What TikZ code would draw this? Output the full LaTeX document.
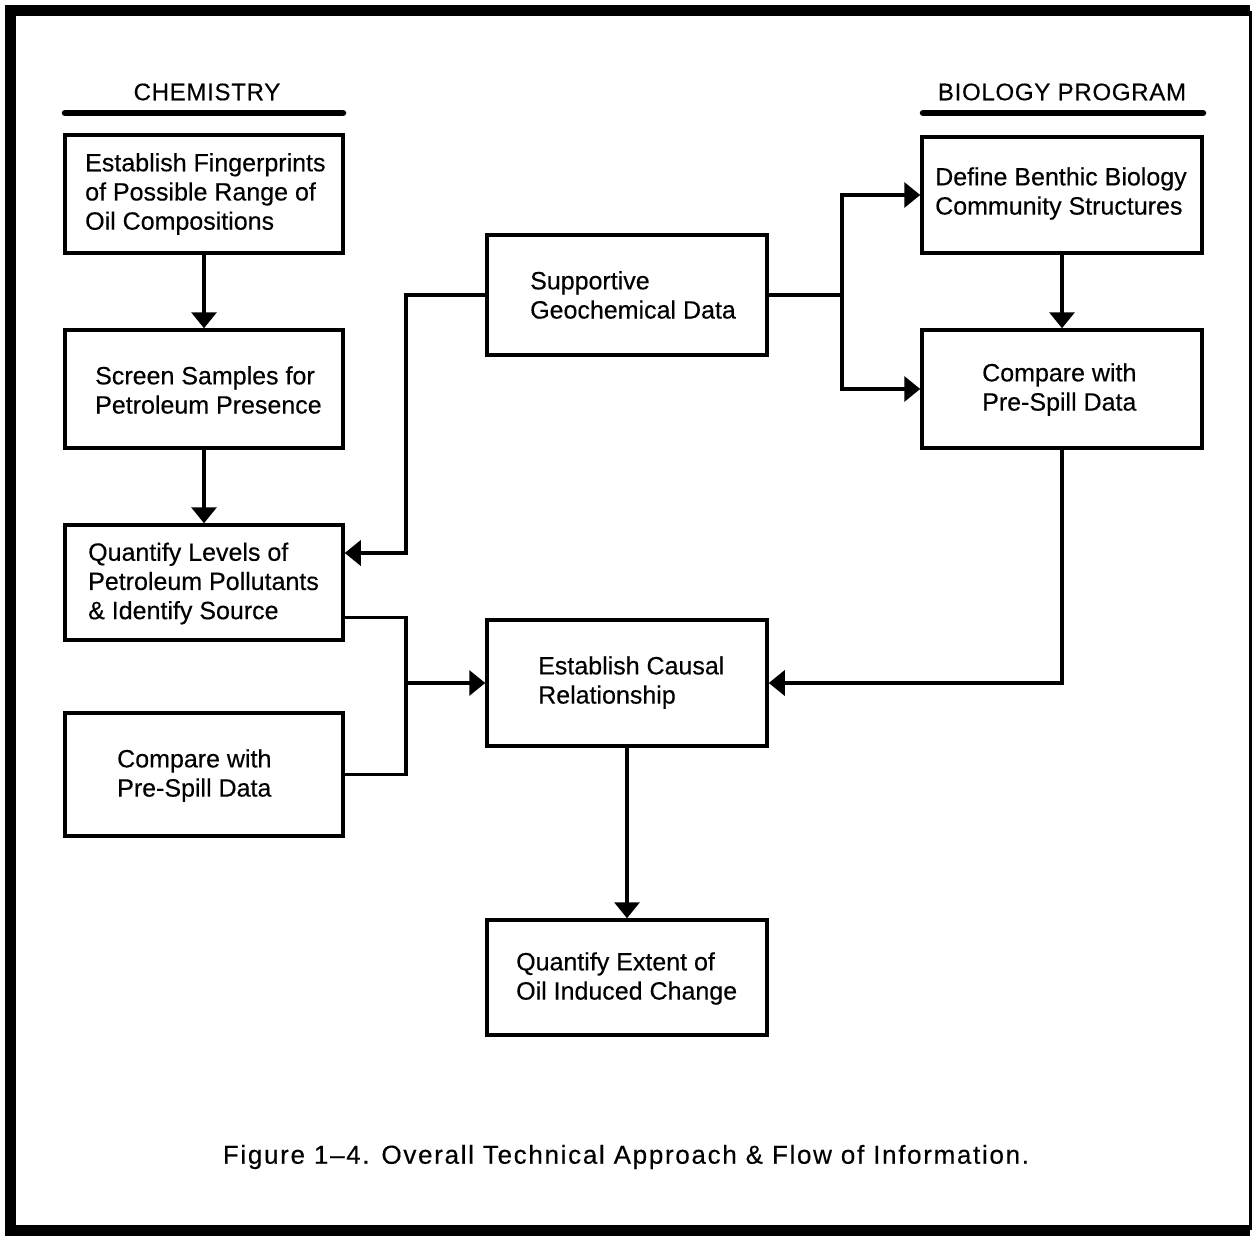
\documentclass[tikz,border=0pt]{standalone}
\usepackage{fontspec}
\setmainfont{Liberation Sans}[FakeBold=0.3]
\usetikzlibrary{arrows.meta}
\begin{document}
\begin{tikzpicture}[x=1pt,y=-1pt,
  box/.style={draw,line width=3.5pt,minimum width=278pt,inner sep=0pt},
  txt/.style={font=\fontsize{25}{29.2}\selectfont,align=left,inner sep=0pt},
  head/.style={font=\fontsize{24}{28}\selectfont\addfontfeature{LetterSpace=3},inner sep=0pt},
  line/.style={line width=3.5pt},
  arr/.style={line width=3.5pt,-{Triangle[length=16pt,width=25pt]}},
  uline/.style={line width=6.5pt,line cap=round}]
\useasboundingbox (0,0) rectangle (1254,1236);
\fill[white] (0,0) rectangle (1254,1236);
% frame
\draw[line width=11pt] (1250,11) -- (10,11) -- (10,1230) -- (1250,1230);
\draw[line width=3pt] (1250,11) -- (1250,1230);
% headings
\node[head] (hc) at (207,92) {CHEMISTRY};
\node[head] (hb) at (1062,92) {BIOLOGY PROGRAM};
\coordinate (hcl) at (65,113); \coordinate (hcr) at (343,113);
\coordinate (hbl) at (923,113); \coordinate (hbr) at (1203,113);
\draw[uline] (hcl) -- (hcr);
\draw[uline] (hbl) -- (hbr);
% boxes
\node[box,minimum height=118pt] (b1) at (204,194) {};
\node[box,minimum height=118pt] (b2) at (204,389) {};
\node[box,minimum height=115pt] (b3) at (204,582.5) {};
\node[box,minimum height=123pt] (b4) at (204,774.5) {};
\node[box,minimum width=280pt,minimum height=120pt] (b5) at (627,295) {};
\node[box,minimum width=280pt,minimum height=126pt] (b6) at (627,683) {};
\node[box,minimum width=280pt,minimum height=115pt] (b7) at (627,977.5) {};
\node[box,minimum width=280pt,minimum height=116pt] (b8) at (1062,195) {};
\node[box,minimum width=280pt,minimum height=118pt] (b9) at (1062,389) {};
% texts
\node[txt,anchor=west] (t1) at (85,194) {Establish Fingerprints\\of Possible Range of\\Oil Compositions};
\node[txt,anchor=west] (t2) at (95,390) {Screen Samples for\\Petroleum Presence};
\node[txt,anchor=west] (t3) at (88,583.5) {Quantify Levels of\\Petroleum Pollutants\\\& Identify Source};
\node[txt,anchor=west] (t4) at (117,775.5) {Compare with\\Pre-Spill Data};
\node[txt,anchor=west] (t5) at (530,295) {Supportive\\Geochemical Data};
\node[txt,anchor=west] (t6) at (538,682.5) {Establish Causal\\Relationship};
\node[txt,anchor=west] (t7) at (516,978.5) {Quantify Extent of\\Oil Induced Change};
\node[txt,anchor=west] (t8) at (935,193.5) {Define Benthic Biology\\Community Structures};
\node[txt,anchor=west] (t9) at (982,389.5) {Compare with\\Pre-Spill Data};
% junctions
\coordinate (j1) at (406,553);
\coordinate (j2) at (406,683);
\coordinate (j3) at (842,295);
% connectors
\draw[arr] (b1.south) -- (b2.north);
\draw[arr] (b2.south) -- (b3.north);
\draw[arr] (b5.west) -| (j1) -- (b3.east |- j1);
\draw[line] ([yshift=-35pt]b3.east) -| (j2);
\draw[line] (b4.east) -| (j2);
\draw[arr] (j2) -- (b6.west);
\draw[line] (b5.east) -- (j3);
\draw[arr] (j3) |- (b8.west);
\draw[arr] (j3) |- (b9.west);
\draw[arr] (b8.south) -- (b9.north);
\draw[arr] (b9.south) |- (b6.east);
\draw[arr] (b6.south) -- (b7.north);
% caption
\node[font=\fontsize{26}{30}\selectfont\addfontfeature{LetterSpace=6.5},inner sep=0pt] (cap) at (626,1157) {Figure 1--4. Overall Technical Approach \& Flow of Information.};
\end{tikzpicture}
\end{document}
